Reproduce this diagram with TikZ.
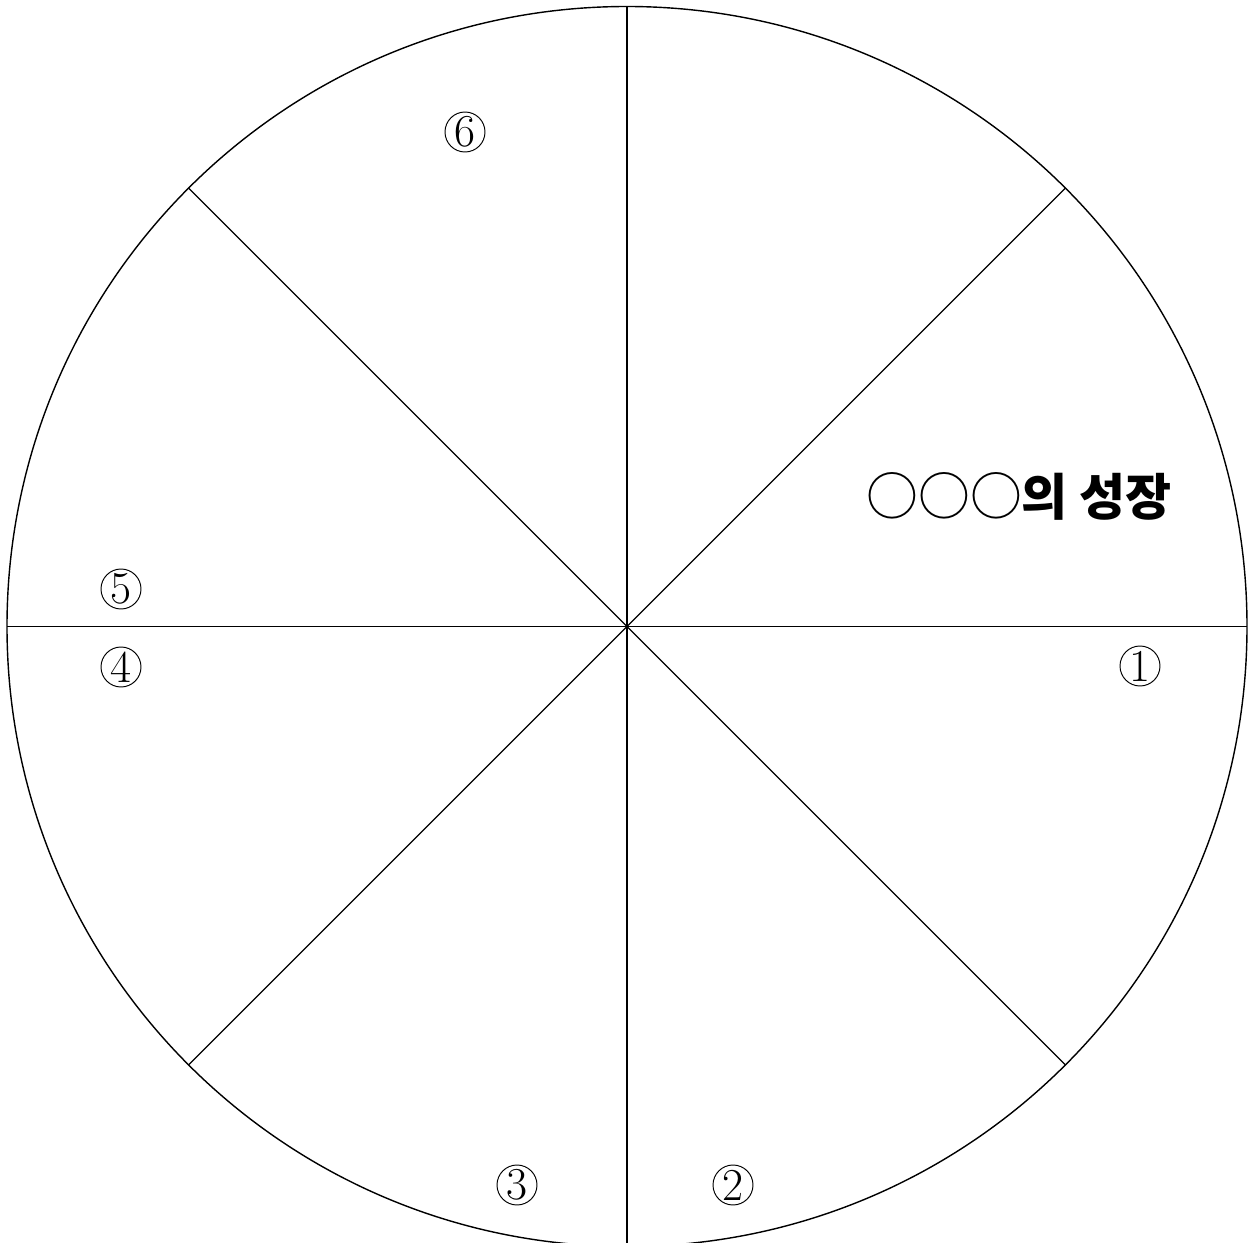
\documentclass[tikz,border=0pt]{standalone}
\usepackage{fontspec}
\usetikzlibrary{calc}
\newfontfamily\kr{Noto Sans CJK KR}
\tikzset{
  wheel/.style={line width=0.8pt, black},
  numc/.style={circle, draw, line width=0.55pt, inner sep=0pt, minimum size=0.8cm,
    font=\fontsize{26}{26}\selectfont},
  title/.style={font=\kr\fontsize{28.5}{28.5}\selectfont, inner sep=0pt}
}
\begin{document}
\begin{tikzpicture}[x=0.02cm, y=-0.02cm]
\useasboundingbox (0,0) rectangle (1252,1243);
\fill[white] (0,0) rectangle (1252,1243);
\coordinate (O) at (627,626.5);
\draw[wheel] (O) circle (620);
\foreach \a/\n in {0/E,45/NE,90/N,135/NW,180/W,225/SW,270/S,315/SE}{
  \coordinate (\n) at ($(O)+(\a:620 and -620)$);
}
\draw[wheel] (W) -- (E);
\draw[wheel] (N) -- (S);
\draw[wheel] (NW) -- (SE);
\draw[wheel] (NE) -- (SW);
\node[numc] (n1) at (1140,666) {1};
\node[numc] (n2) at (733,1185) {2};
\node[numc] (n3) at (517,1185) {3};
\node[numc] (n4) at (121,667) {4};
\node[numc] (n5) at (121,589) {5};
\node[numc] (n6) at (465,132) {6};
\node[title] (t) at (1019,496) {{\fontsize{29.5}{29.5}\selectfont ○○○}{\bfseries 의 성장}};
\end{tikzpicture}
\end{document}
